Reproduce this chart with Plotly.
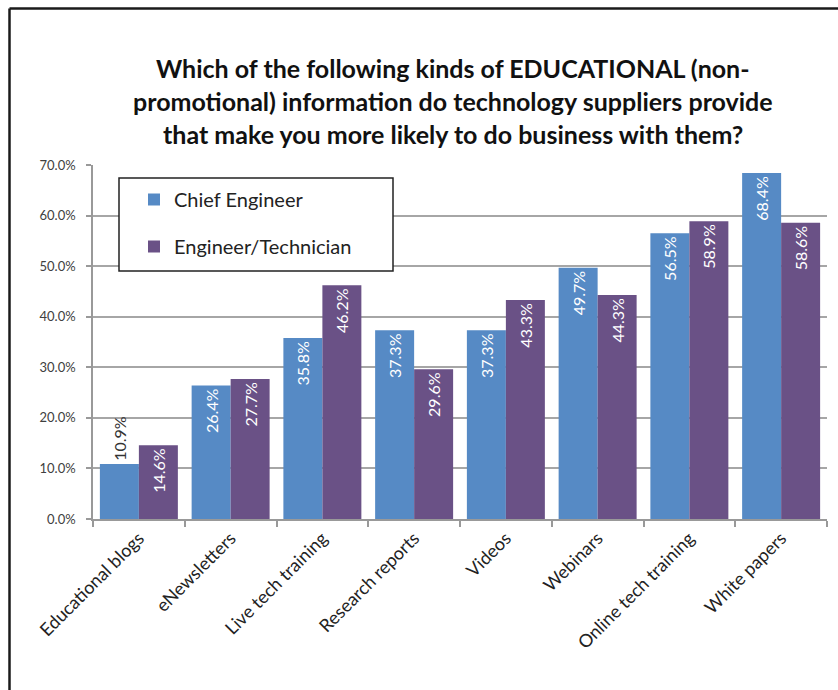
import plotly.graph_objects as go

# Survey categories and response shares (%)
categories = [
    "Educational blogs", "eNewsletters", "Live tech training", "Research reports",
    "Videos", "Webinars", "Online tech training", "White papers",
]
chief_engineer = [10.9, 26.4, 35.8, 37.3, 37.3, 49.7, 56.5, 68.4]
engineer_technician = [14.6, 27.7, 46.2, 29.6, 43.3, 44.3, 58.9, 58.6]
y_ticks = [0, 10, 20, 30, 40, 50, 60, 70]
title_lines = [
    "Which of the following kinds of EDUCATIONAL (non-",
    "promotional) information do technology suppliers provide",
    "that make you more likely to do business with them?",
]

BLUE = "#568ac5"
PURPLE = "#6a5186"
FONT = "Lato"

W, H = 838, 690
L, R, T, B = 93, 11, 165, 171
pw, ph = W - L - R, H - T - B


def px_x(x):
    return (x - L) / pw


def px_y(y):
    return (H - B - y) / ph


def series(name, values, color, small_threshold=12):
    positions = ["outside" if v < small_threshold else "inside" for v in values]
    colors = ["#333333" if v < small_threshold else "white" for v in values]
    return go.Bar(
        name=name,
        x=categories,
        y=values,
        marker=dict(color=color, line=dict(width=0)),
        text=[f"{v:.1f}%" for v in values],
        textposition=positions,
        insidetextanchor="end",
        textangle=-90,
        textfont=dict(family=FONT, size=16, color=colors),
        constraintext="none",
        cliponaxis=False,
    )


fig = go.Figure()
fig.add_trace(series("Chief Engineer", chief_engineer, BLUE))
fig.add_trace(series("Engineer/Technician", engineer_technician, PURPLE))

shapes = [
    # outer frame (top and left edges)
    dict(type="line", xref="paper", yref="paper",
         x0=px_x(9.5), x1=px_x(845), y0=px_y(8.5), y1=px_y(8.5),
         line=dict(color="#1a1a1a", width=2.5)),
    dict(type="line", xref="paper", yref="paper",
         x0=px_x(9.5), x1=px_x(9.5), y0=px_y(8.5), y1=px_y(700),
         line=dict(color="#1a1a1a", width=2.5)),
    # legend box
    dict(type="rect", xref="paper", yref="paper", layer="above",
         x0=px_x(119), x1=px_x(393), y0=px_y(271), y1=px_y(178),
         line=dict(color="#222222", width=1.5), fillcolor="white"),
]

annotations = []
for i, line in enumerate(title_lines):
    annotations.append(dict(
        text=f"<b>{line}</b>", xref="paper", yref="paper",
        x=px_x(453), y=px_y(68 + 33 * i), xanchor="center", yanchor="middle",
        showarrow=False, font=dict(family=FONT, size=25, color="#111111"),
    ))

fig.update_layout(
    width=W, height=H,
    margin=dict(l=L, r=R, t=T, b=B, pad=0),
    paper_bgcolor="white", plot_bgcolor="white",
    barmode="group", bargap=0.15, bargroupgap=0,
    font=dict(family=FONT, color="#222222"),
    showlegend=True,
    legend=dict(
        x=px_x(134), y=px_y(180), xanchor="left", yanchor="top",
        bgcolor="rgba(0,0,0,0)", borderwidth=0,
        font=dict(family=FONT, size=20, color="#222222"),
        tracegroupgap=18, itemwidth=30,
    ),
    shapes=shapes,
    annotations=annotations,
)

fig.update_xaxes(
    type="category", tickangle=-45, tickfont=dict(family=FONT, size=18, color="#222222"),
    showline=True, linecolor="#999999", linewidth=1.5,
    ticks="outside", tickson="boundaries", ticklen=6, tickcolor="#999999", tickwidth=1.5,
    showgrid=False,
)
fig.update_yaxes(
    range=[0, 70], tickvals=y_ticks, ticktext=[f"{v:.1f}%" for v in y_ticks],
    tickfont=dict(family=FONT, size=13, color="#404040"),
    ticklabelstandoff=8,
    showgrid=True, gridcolor="#a6a6a6", gridwidth=1.5,
    showline=True, linecolor="#999999", linewidth=1.5,
    ticks="outside", ticklen=5, tickcolor="#999999", tickwidth=1.5,
    zeroline=False,
)

for i, tr in enumerate(fig.data):
    tr.legendgroup = f"g{i}"

fig.write_html("out.html")
